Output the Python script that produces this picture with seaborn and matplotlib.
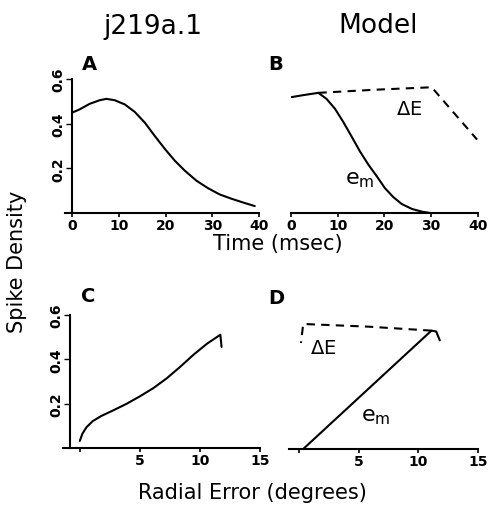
import matplotlib
matplotlib.use("Agg")
import matplotlib.pyplot as plt
import seaborn as sns

# ---- data ----
# A: cell j219a.1, spike density vs time (msec)
a_time = [0, 1.64, 3.79, 5.93, 7.36, 9.14, 11.3, 13.4, 15.6, 17.7, 19.9, 22, 24.1,
          26.6, 29.1, 31.6, 34.1, 36.6, 39.1]
a_density = [0.449, 0.464, 0.489, 0.505, 0.511, 0.505, 0.486, 0.453, 0.404, 0.345, 0.286,
             0.234, 0.19, 0.145, 0.111, 0.083, 0.064, 0.047, 0.031]

# B: model, e_m and delta E vs time
b_em_time = [0.14, 3, 5.86, 7.6, 9.4, 11.2, 13, 14.8, 16.6, 18.4, 20.1, 21.9, 23.7,
             25.9, 28, 29.8]
b_em_density = [0.519, 0.529, 0.538, 0.511, 0.467, 0.407, 0.341, 0.274, 0.215, 0.163,
                0.111, 0.071, 0.04, 0.018, 0.006, 0.0]
b_de_time = [5.86, 18, 30.1, 34.4, 39.8]
b_de_density = [0.538, 0.552, 0.563, 0.459, 0.329]

# C: cell j219a.1, spike density vs radial error (degrees)
c_error = [0, 0.22, 0.56, 1.07, 1.77, 2.75, 3.88, 5, 6.12, 7.25, 8.37, 9.49, 10.6,
           11.7, 11.8]
c_density = [0.032, 0.065, 0.094, 0.121, 0.144, 0.169, 0.199, 0.233, 0.27, 0.315,
             0.367, 0.422, 0.471, 0.511, 0.456]

# D: model, e_m and delta E vs radial error
d_em_error = [0.36, 11.1, 11.5, 11.8]
d_em_density = [0.0, 0.534, 0.53, 0.49]
d_de_error = [11.1, 5.8, 0.36, 0.17]
d_de_density = [0.534, 0.552, 0.564, 0.478]

time_ticks = [0, 10, 20, 30, 40]
error_ticks = [0, 5, 10, 15]
error_labels = ["", "5", "10", "15"]
density_ticks = [0.2, 0.4, 0.6]

sns.set_style("ticks")
plt.rcParams['font.family'] = ['DejaVu Sans']
plt.rcParams['text.color'] = 'black'
plt.rcParams['xtick.color'] = 'black'
plt.rcParams['ytick.color'] = 'black'
plt.rcParams['axes.edgecolor'] = 'black'

W, H = 489, 510
fig = plt.figure(figsize=(W / 100, H / 100), dpi=100)


def px_axes(left, right, top, bottom):
    return fig.add_axes([left / W, 1 - bottom / H, (right - left) / W, (bottom - top) / H])


ax_a = px_axes(65, 259, 80, 214)
ax_b = px_axes(291, 478, 80, 214)
ax_c = px_axes(63, 260, 316, 449)
ax_d = px_axes(289, 478, 317, 450)

lw = 1.5
dash = (0, (4, 3))
sns.lineplot(x=a_time, y=a_density, ax=ax_a, color="black", lw=lw, sort=False)
sns.lineplot(x=b_em_time, y=b_em_density, ax=ax_b, color="black", lw=lw, sort=False)
sns.lineplot(x=b_de_time, y=b_de_density, ax=ax_b, color="black", lw=lw, sort=False,
             linestyle=dash)
sns.lineplot(x=c_error, y=c_density, ax=ax_c, color="black", lw=lw, sort=False)
sns.lineplot(x=d_em_error, y=d_em_density, ax=ax_d, color="black", lw=lw, sort=False)
sns.lineplot(x=d_de_error, y=d_de_density, ax=ax_d, color="black", lw=lw, sort=False,
             linestyle=dash)

tick_font = dict(fontsize=10, fontweight="bold")

for ax in (ax_a, ax_b, ax_c, ax_d):
    ax.set_ylim(0, 0.6)
    ax.spines['top'].set_visible(False)
    ax.spines['right'].set_visible(False)
    ax.spines['bottom'].set_linewidth(1.5)
    ax.spines['left'].set_linewidth(1.5)
    ax.tick_params(axis='x', direction='out', length=3, width=1.2, pad=0.5)
    ax.tick_params(axis='y', direction='out', length=4, width=1.0, pad=1)
    ax.set_facecolor("white")

ax_a.set_xlim(-1.5, 40)
ax_b.set_xlim(0, 40)
ax_c.set_xlim(-1.4, 15)
ax_d.set_xlim(-0.83, 15)

for ax in (ax_a, ax_b):
    ax.set_xticks(time_ticks)
    ax.set_xticklabels([str(t) for t in time_ticks], **tick_font)
for ax in (ax_c, ax_d):
    ax.set_xticks(error_ticks)
    ax.set_xticklabels(error_labels, **tick_font)

ax_a.spines['left'].set_position(('data', 0))
ax_c.spines['left'].set_position(('data', -0.8))
for ax in (ax_a, ax_c):
    ax.set_yticks(density_ticks)
    ax.set_yticklabels([f"{v:.1f}" for v in density_ticks], rotation=90, va="center", **tick_font)
for ax in (ax_b, ax_d):
    ax.spines['left'].set_visible(False)
    ax.set_yticks([])

# curve labels
ax_b.text(25.3, 0.47, r"$\Delta$E", fontsize=14, ha="center", va="center")
ax_b.text(14.8, 0.15, r"$\mathregular{e_m}$", fontsize=16, ha="center", va="center")
ax_d.text(2.0, 0.46, r"$\Delta$E", fontsize=14, ha="center", va="center")
ax_d.text(6.4, 0.15, r"$\mathregular{e_m}$", fontsize=16, ha="center", va="center")

# panel letters
for letter, x, y in [("A", 89, 64), ("B", 276, 64), ("C", 88, 296), ("D", 276, 299)]:
    fig.text(x / W, 1 - y / H, letter, fontsize=14, fontweight="bold", ha="center", va="center")

# headings and axis titles
fig.text(153 / W, 1 - 27 / H, "j219a.1", fontsize=19, ha="center", va="center")
fig.text(378 / W, 1 - 26 / H, "Model", fontsize=19, ha="center", va="center")
fig.text(278 / W, 1 - 244 / H, "Time (msec)", fontsize=15, ha="center", va="center")
fig.text(252 / W, 1 - 493 / H, "Radial Error (degrees)", fontsize=15, ha="center", va="center")
fig.text(17 / W, 1 - 262 / H, "Spike Density", fontsize=15, ha="center", va="center", rotation=90)

fig.savefig("out.png", dpi=100, facecolor="white")
